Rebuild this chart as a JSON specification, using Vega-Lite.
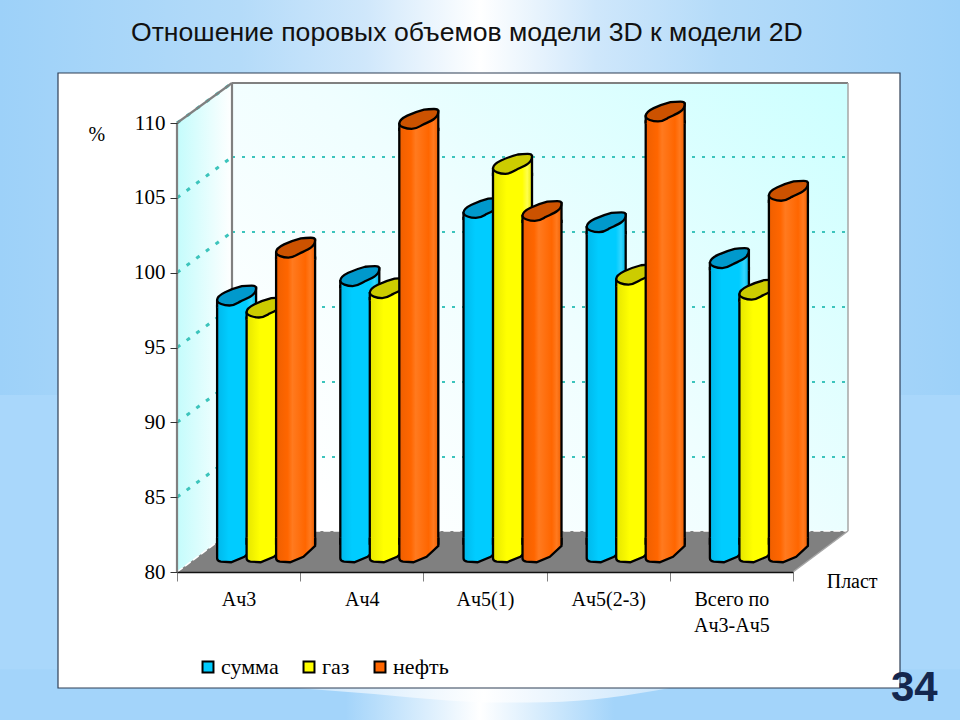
{
"$schema":"https://vega.github.io/schema/vega-lite/v6.json",
"width":960,"height":720,"padding":0,
"autosize":{"type":"fit","contains":"padding"},
"background":"white",
"config":{"view":{"stroke":null}},
"data":{"values":[
{"cat":"Ач3","series":"сумма","value":97.1},{"cat":"Ач3","series":"газ","value":96.3},{"cat":"Ач3","series":"нефть","value":100.3},
{"cat":"Ач4","series":"сумма","value":98.4},{"cat":"Ач4","series":"газ","value":97.6},{"cat":"Ач4","series":"нефть","value":108.9},
{"cat":"Ач5(1)","series":"сумма","value":102.95},{"cat":"Ач5(1)","series":"газ","value":105.9},{"cat":"Ач5(1)","series":"нефть","value":102.75},
{"cat":"Ач5(2-3)","series":"сумма","value":102.0},{"cat":"Ач5(2-3)","series":"газ","value":98.5},{"cat":"Ач5(2-3)","series":"нефть","value":109.4},
{"cat":"Всего по Ач3-Ач5","series":"сумма","value":99.6},{"cat":"Всего по Ач3-Ач5","series":"газ","value":97.5},{"cat":"Всего по Ач3-Ач5","series":"нефть","value":104.1}
]},
"resolve":{"scale":{"x":"independent","y":"independent"},"axis":{"x":"independent","y":"independent"}},
"layer":[
{
"encoding":{
"x":{"field":"u","type":"quantitative","axis":null,"scale":{"domain":[-1.4367,6.3555],"range":[0,960],"nice":false,"zero":false}},
"y":{"field":"p","type":"quantitative","axis":null,"scale":{"domain":[70.112,118.218],"range":[720,0],"nice":false,"zero":false}}
},
"layer":[
{"data":{"values":[{"u":-1.4367,"u2":6.3555,"p":118.218,"p2":70.112}]},
 "mark":{"type":"rect","fill":"#a9d7fb"},
 "encoding":{"x2":{"field":"u2"},"y2":{"field":"p2"}}},
{"data":{"values":[{"u":-1.4367,"u2":6.3555,"p":118.218,"p2":91.826}]},
 "mark":{"type":"rect","fill":{"gradient":"linear","x1":0,"y1":0,"x2":1,"y2":0,"stops":[{"offset":0,"color":"#9dd1f9"},{"offset":0.25,"color":"#b4dbf9"},{"offset":0.38,"color":"#cfe7fb"},{"offset":0.5,"color":"#ffffff"},{"offset":0.62,"color":"#cfe7fb"},{"offset":0.75,"color":"#b4dbf9"},{"offset":1,"color":"#9dd1f9"}]}},
 "encoding":{"x2":{"field":"u2"},"y2":{"field":"p2"}}},
{"data":{"values":[{"u":-1.4367,"u2":6.3555,"p":73.5,"p2":70.112}]},
 "mark":{"type":"rect","fill":{"gradient":"linear","x1":0,"y1":0,"x2":1,"y2":0,"stops":[{"offset":0,"color":"#a3d4fa"},{"offset":0.36,"color":"#a3d4fa"},{"offset":0.5,"color":"#ffffff"},{"offset":0.64,"color":"#a3d4fa"},{"offset":1,"color":"#a3d4fa"}]}},
 "encoding":{"x2":{"field":"u2"},"y2":{"field":"p2"}}},
{"data":{"values":[{"u":0.97,"p":72.25,"p2":72.25},{"u":1.6,"p":71.85,"p2":72.25},{"u":2.2,"p":71.42,"p2":72.25},{"u":2.6,"p":71.28,"p2":72.25},{"u":3.0,"p":71.3,"p2":72.25},{"u":3.5,"p":71.6,"p2":72.25},{"u":4.0,"p":72.25,"p2":72.25}]},
 "mark":{"type":"area","interpolate":"monotone","fill":{"gradient":"linear","x1":0,"y1":0,"x2":1,"y2":0,"stops":[{"offset":0,"color":"#c9e5fc"},{"offset":0.5,"color":"#ffffff"},{"offset":1,"color":"#c9e5fc"}]}},
 "encoding":{"y2":{"field":"p2"}}},
{"data":{"values":[{"u":-0.9659,"u2":5.8685,"p":113.34,"p2":72.25}]},
 "mark":{"type":"rect","fill":"#ffffff","stroke":"#2f3f55","strokeWidth":1.2},
 "encoding":{"x2":{"field":"u2"},"y2":{"field":"p2"}}},
{"data":{"values":[{"u":0,"p":110,"p2":80},{"u":0.4464,"p":112.672,"p2":82.739}]},
 "mark":{"type":"area","fill":{"gradient":"linear","x1":0,"y1":0,"x2":1,"y2":0,"stops":[{"offset":0,"color":"#c4fcfc"},{"offset":1,"color":"#ffffff"}]}},
 "encoding":{"y2":{"field":"p2"}}},
{"data":{"values":[{"u":0.4464,"u2":5.4464,"p":112.672,"p2":82.739}]},
 "mark":{"type":"rect","fill":{"gradient":"linear","x1":0,"y1":0.75,"x2":1,"y2":0,"stops":[{"offset":0,"color":"#ffffff"},{"offset":0.45,"color":"#effeff"},{"offset":1,"color":"#ccffff"}]}},
 "encoding":{"x2":{"field":"u2"},"y2":{"field":"p2"}}},
{"data":{"values":[{"u":0,"p":80,"p2":80},{"u":0.4464,"p":82.739,"p2":80},{"u":5,"p":82.739,"p2":80},{"u":5.4464,"p":82.739,"p2":82.739}]},
 "mark":{"type":"area","fill":"#808080"},
 "encoding":{"y2":{"field":"p2"}}},
{"data":{"values":[
{"g":"a","u":0.4464,"p":107.728},{"g":"a","u":5.4464,"p":107.728},
{"g":"b","u":0.4464,"p":102.717},{"g":"b","u":5.4464,"p":102.717},
{"g":"c","u":0.4464,"p":97.706},{"g":"c","u":5.4464,"p":97.706},
{"g":"d","u":0.4464,"p":92.695},{"g":"d","u":5.4464,"p":92.695},
{"g":"e","u":0.4464,"p":87.684},{"g":"e","u":5.4464,"p":87.684}]},
 "mark":{"type":"line","stroke":"#3cc4bc","strokeWidth":2,"strokeDash":[3,7]},
 "encoding":{"detail":{"field":"g"}}},
{"data":{"values":[
{"g":"t","u":0,"p":110},{"g":"t","u":0.4464,"p":112.672},
{"g":"a","u":0,"p":105},{"g":"a","u":0.4464,"p":107.728},
{"g":"b","u":0,"p":100},{"g":"b","u":0.4464,"p":102.717},
{"g":"c","u":0,"p":95},{"g":"c","u":0.4464,"p":97.706},
{"g":"d","u":0,"p":90},{"g":"d","u":0.4464,"p":92.695},
{"g":"e","u":0,"p":85},{"g":"e","u":0.4464,"p":87.684}]},
 "mark":{"type":"line","stroke":"#3cc4bc","strokeWidth":3,"strokeDash":[4,8]},
 "encoding":{"detail":{"field":"g"}}},
{"data":{"values":[{"g":"w","u":0,"p":80},{"g":"w","u":0.4464,"p":82.739},{"g":"w","u":5.4464,"p":82.739}]},
 "mark":{"type":"line","stroke":"#ffffff","strokeWidth":1.5,"strokeDash":[7,3]},
 "encoding":{"detail":{"field":"g"}}},
{"data":{"values":[
{"g":"l","u":0,"p":80},{"g":"l","u":0,"p":110},
{"g":"k","u":0,"p":110},{"g":"k","u":0.4464,"p":112.672},
{"g":"j","u":0.4464,"p":112.672},{"g":"j","u":0.4464,"p":82.739},
{"g":"m","u":0.4464,"p":112.672},{"g":"m","u":5.4464,"p":112.672}]},
 "mark":{"type":"line","stroke":"#808080","strokeWidth":2.2},
 "encoding":{"detail":{"field":"g"}}},
{"data":{"values":[
{"g":"r","u":5.4464,"p":112.672},{"g":"r","u":5.4464,"p":82.739},
{"g":"s","u":5.4464,"p":82.739},{"g":"s","u":5,"p":80}]},
 "mark":{"type":"line","stroke":"#a6a6a6","strokeWidth":1.5},
 "encoding":{"detail":{"field":"g"}}},
{"data":{"values":[{"u":2.353,"p":116.0,"t":"Отношение поровых объемов модели 3D к модели 2D"}]},
 "mark":{"type":"text","font":"Liberation Sans","fontSize":26.6,"fill":"#111111","align":"center","baseline":"middle"},
 "encoding":{"text":{"field":"t"}}},
{"data":{"values":[{"u":-0.65,"p":109.2,"t":"%"},{"u":5.48,"p":79.3,"t":"Пласт"}]},
 "mark":{"type":"text","font":"Liberation Serif","fontSize":20,"fill":"#000000","align":"center","baseline":"middle"},
 "encoding":{"text":{"field":"t"}}},
{"data":{"values":[{"u":5.985,"p":72.25,"t":"34"}]},
 "mark":{"type":"text","font":"Liberation Sans","fontWeight":"bold","fontSize":42,"fill":"#14274e","align":"center","baseline":"middle"},
 "encoding":{"text":{"field":"t"}}}
]
},
{
"mark":{"type":"point","filled":true,"size":0},
"encoding":{
"x":{"field":"cat","type":"nominal","scale":{"domain":["Ач3","Ач4","Ач5(1)","Ач5(2-3)","Всего по Ач3-Ач5"],"range":[177,793],"paddingInner":0,"paddingOuter":0},
 "axis":{"orient":"bottom","offset":-148,"title":null,"labelAngle":0,"tickBand":"extent","tickSize":9,"tickColor":"#808080","domainColor":"#111111","domainWidth":1.5,"labelFont":"Liberation Serif","labelFontSize":20,"labelColor":"#000000","labelPadding":8,"labelLineHeight":26,"labelBaseline":"top","zindex":1,"labelExpr":"datum.label == 'Всего по Ач3-Ач5' ? ['Всего по','Ач3-Ач5'] : datum.label"}},
"y":{"field":"value","type":"quantitative","scale":{"domain":[80,110],"range":[572,123],"nice":false,"zero":false},
 "axis":{"orient":"left","offset":-177,"title":null,"values":[80,85,90,95,100,105,110],"grid":false,"tickSize":7,"tickColor":"#333333","domain":false,"labelFont":"Liberation Serif","labelFontSize":21,"labelColor":"#000000","labelPadding":5,"zindex":1}},
"color":{"field":"series","type":"nominal","scale":{"domain":["сумма","газ","нефть"],"range":["#00ccff","#ffff00","#ff6600"]},
 "legend":{"orient":"none","legendX":197,"legendY":656,"direction":"horizontal","columns":3,"title":null,"symbolType":"square","symbolSize":120,"symbolStrokeColor":"#000000","symbolStrokeWidth":2,"symbolOpacity":1,"labelFont":"Liberation Serif","labelFontSize":22,"labelColor":"#000000","labelOffset":2,"columnPadding":19}}
}
},
{
"encoding":{
"x":{"field":"cat","type":"nominal","axis":null,"scale":{"domain":["Ач3","Ач4","Ач5(1)","Ач5(2-3)","Всего по Ач3-Ач5"],"range":[204.5,820.5],"paddingInner":0,"paddingOuter":0}},
"xOffset":{"field":"series","type":"nominal","scale":{"domain":["сумма","газ","нефть"],"range":[17.35,105.85],"paddingInner":0,"paddingOuter":0}},
"y":{"field":"value","type":"quantitative","axis":null,"scale":{"domain":[80,110],"range":[551.5,102.5],"nice":false,"zero":false}}
},
"layer":[
{"transform":[{"filter":{"field":"series","equal":"сумма"}}],
 "mark":{"type":"bar","width":39,"yOffset":10,"y2Offset":-8,"stroke":"#000000","strokeWidth":2.3,"fill":{"gradient":"linear","x1":0,"y1":0,"x2":1,"y2":0,"stops":[{"offset":0,"color":"#00b8ea"},{"offset":0.3,"color":"#00ccff"},{"offset":0.75,"color":"#00ccff"},{"offset":0.88,"color":"#33d6ff"},{"offset":1,"color":"#00b8ea"}]}},
 "encoding":{"y2":{"datum":80}}},
{"transform":[{"filter":{"field":"series","equal":"сумма"}}],
 "mark":{"type":"point","filled":true,"opacity":1,"size":1521,"shape":"M1,-0.7 L1,-0.28 L0.96,-0.25 L0.4,0.27 L-0.28,0.55 L-0.8,0.52 Q-1,0.5 -1,0.35 L-1,-0.7","stroke":"#000000","strokeWidth":2.3,"fill":{"gradient":"linear","x1":0,"y1":0,"x2":1,"y2":0,"stops":[{"offset":0,"color":"#00b8ea"},{"offset":0.3,"color":"#00ccff"},{"offset":0.75,"color":"#00ccff"},{"offset":0.88,"color":"#33d6ff"},{"offset":1,"color":"#00b8ea"}]}},
 "encoding":{"y":{"datum":80}}},
{"transform":[{"filter":{"field":"series","equal":"сумма"}}],
 "mark":{"type":"point","filled":true,"opacity":1,"size":1521,"shape":"M-1,0.62 L-1,0.24 L1,-0.39 L1,0.62","stroke":"#000000","strokeWidth":2.3,"fill":{"gradient":"linear","x1":0,"y1":0,"x2":1,"y2":0,"stops":[{"offset":0,"color":"#00b8ea"},{"offset":0.3,"color":"#00ccff"},{"offset":0.75,"color":"#00ccff"},{"offset":0.88,"color":"#33d6ff"},{"offset":1,"color":"#00b8ea"}]}}},
{"transform":[{"filter":{"field":"series","equal":"сумма"}}],
 "mark":{"type":"point","filled":true,"opacity":1,"size":1521,"shape":"M-1,0.24 C-1,0.4 -0.65,0.51 -0.37,0.51 C-0.1,0.51 0.05,0.38 0.18,0.31 C0.4,0.2 0.62,0.12 0.78,0 C0.92,-0.1 1,-0.25 1,-0.39 C1,-0.47 0.92,-0.51 0.78,-0.51 C0.6,-0.51 0.42,-0.5 0.27,-0.48 C-0.05,-0.4 -0.35,-0.28 -0.59,-0.17 C-0.8,-0.07 -1,0.08 -1,0.24 Z","stroke":"#000000","strokeWidth":2.3,"fill":"#0099cc"}},

{"transform":[{"filter":{"field":"series","equal":"газ"}}],
 "mark":{"type":"bar","width":39,"yOffset":10,"y2Offset":-8,"stroke":"#000000","strokeWidth":2.3,"fill":{"gradient":"linear","x1":0,"y1":0,"x2":1,"y2":0,"stops":[{"offset":0,"color":"#e6e600"},{"offset":0.35,"color":"#ffff00"},{"offset":0.75,"color":"#ffff00"},{"offset":0.88,"color":"#ffff4d"},{"offset":1,"color":"#e6e600"}]}},
 "encoding":{"y2":{"datum":80}}},
{"transform":[{"filter":{"field":"series","equal":"газ"}}],
 "mark":{"type":"point","filled":true,"opacity":1,"size":1521,"shape":"M1,-0.7 L1,-0.28 L0.96,-0.25 L0.4,0.27 L-0.28,0.55 L-0.8,0.52 Q-1,0.5 -1,0.35 L-1,-0.7","stroke":"#000000","strokeWidth":2.3,"fill":{"gradient":"linear","x1":0,"y1":0,"x2":1,"y2":0,"stops":[{"offset":0,"color":"#e6e600"},{"offset":0.35,"color":"#ffff00"},{"offset":0.75,"color":"#ffff00"},{"offset":0.88,"color":"#ffff4d"},{"offset":1,"color":"#e6e600"}]}},
 "encoding":{"y":{"datum":80}}},
{"transform":[{"filter":{"field":"series","equal":"газ"}}],
 "mark":{"type":"point","filled":true,"opacity":1,"size":1521,"shape":"M-1,0.62 L-1,0.24 L1,-0.39 L1,0.62","stroke":"#000000","strokeWidth":2.3,"fill":{"gradient":"linear","x1":0,"y1":0,"x2":1,"y2":0,"stops":[{"offset":0,"color":"#e6e600"},{"offset":0.35,"color":"#ffff00"},{"offset":0.75,"color":"#ffff00"},{"offset":0.88,"color":"#ffff4d"},{"offset":1,"color":"#e6e600"}]}}},
{"transform":[{"filter":{"field":"series","equal":"газ"}}],
 "mark":{"type":"point","filled":true,"opacity":1,"size":1521,"shape":"M-1,0.24 C-1,0.4 -0.65,0.51 -0.37,0.51 C-0.1,0.51 0.05,0.38 0.18,0.31 C0.4,0.2 0.62,0.12 0.78,0 C0.92,-0.1 1,-0.25 1,-0.39 C1,-0.47 0.92,-0.51 0.78,-0.51 C0.6,-0.51 0.42,-0.5 0.27,-0.48 C-0.05,-0.4 -0.35,-0.28 -0.59,-0.17 C-0.8,-0.07 -1,0.08 -1,0.24 Z","stroke":"#000000","strokeWidth":2.3,"fill":"#cccc00"}},

{"transform":[{"filter":{"field":"series","equal":"нефть"}}],
 "mark":{"type":"bar","width":39,"yOffset":10,"y2Offset":-8,"stroke":"#000000","strokeWidth":2.3,"fill":{"gradient":"linear","x1":0,"y1":0,"x2":1,"y2":0,"stops":[{"offset":0,"color":"#ef5f00"},{"offset":0.3,"color":"#ff6600"},{"offset":0.42,"color":"#ff7a1f"},{"offset":0.75,"color":"#ff6600"},{"offset":0.88,"color":"#ff7a1f"},{"offset":1,"color":"#ef5f00"}]}},
 "encoding":{"y2":{"datum":80}}},
{"transform":[{"filter":{"field":"series","equal":"нефть"}}],
 "mark":{"type":"point","filled":true,"opacity":1,"size":1521,"shape":"M1,-0.7 L1,-0.28 L0.96,-0.25 L0.4,0.27 L-0.28,0.55 L-0.8,0.52 Q-1,0.5 -1,0.35 L-1,-0.7","stroke":"#000000","strokeWidth":2.3,"fill":{"gradient":"linear","x1":0,"y1":0,"x2":1,"y2":0,"stops":[{"offset":0,"color":"#ef5f00"},{"offset":0.3,"color":"#ff6600"},{"offset":0.42,"color":"#ff7a1f"},{"offset":0.75,"color":"#ff6600"},{"offset":0.88,"color":"#ff7a1f"},{"offset":1,"color":"#ef5f00"}]}},
 "encoding":{"y":{"datum":80}}},
{"transform":[{"filter":{"field":"series","equal":"нефть"}}],
 "mark":{"type":"point","filled":true,"opacity":1,"size":1521,"shape":"M-1,0.62 L-1,0.24 L1,-0.39 L1,0.62","stroke":"#000000","strokeWidth":2.3,"fill":{"gradient":"linear","x1":0,"y1":0,"x2":1,"y2":0,"stops":[{"offset":0,"color":"#ef5f00"},{"offset":0.3,"color":"#ff6600"},{"offset":0.42,"color":"#ff7a1f"},{"offset":0.75,"color":"#ff6600"},{"offset":0.88,"color":"#ff7a1f"},{"offset":1,"color":"#ef5f00"}]}}},
{"transform":[{"filter":{"field":"series","equal":"нефть"}}],
 "mark":{"type":"point","filled":true,"opacity":1,"size":1521,"shape":"M-1,0.24 C-1,0.4 -0.65,0.51 -0.37,0.51 C-0.1,0.51 0.05,0.38 0.18,0.31 C0.4,0.2 0.62,0.12 0.78,0 C0.92,-0.1 1,-0.25 1,-0.39 C1,-0.47 0.92,-0.51 0.78,-0.51 C0.6,-0.51 0.42,-0.5 0.27,-0.48 C-0.05,-0.4 -0.35,-0.28 -0.59,-0.17 C-0.8,-0.07 -1,0.08 -1,0.24 Z","stroke":"#000000","strokeWidth":2.3,"fill":"#cc5200"}}
]
}
]
}
